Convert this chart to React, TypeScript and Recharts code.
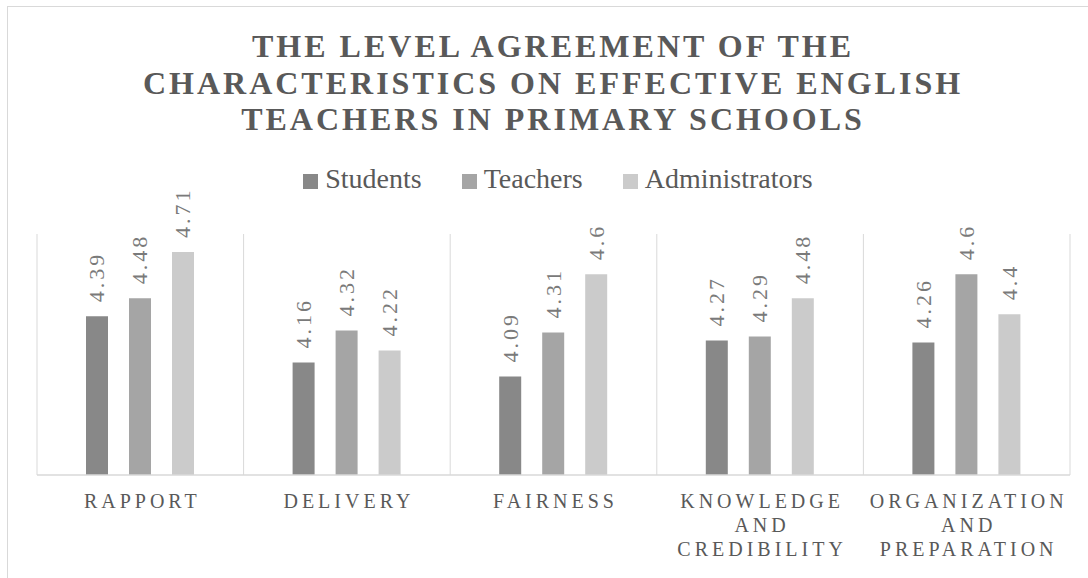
import React from "react";
import {
  BarChart,
  Bar,
  XAxis,
  YAxis,
  CartesianGrid,
  Legend,
  LabelList,
} from "recharts";

const categories = [
  "RAPPORT",
  "DELIVERY",
  "FAIRNESS",
  "KNOWLEDGE AND CREDIBILITY",
  "ORGANIZATION AND PREPARATION",
];
const seriesNames = ["Students", "Teachers", "Administrators"];
const students = [4.39, 4.16, 4.09, 4.27, 4.26];
const teachers = [4.48, 4.32, 4.31, 4.29, 4.6];
const administrators = [4.71, 4.22, 4.6, 4.48, 4.4];
const titleLines = [
  "THE LEVEL AGREEMENT OF THE",
  "CHARACTERISTICS ON EFFECTIVE ENGLISH",
  "TEACHERS IN PRIMARY SCHOOLS",
];

const data = categories.map((category, i) => ({
  category,
  students: students[i],
  teachers: teachers[i],
  administrators: administrators[i],
}));

const FONT = "Liberation Serif, 'DejaVu Serif', serif";

const CategoryTick: React.FC<any> = ({ x, y, payload }) => {
  const lines = String(payload.value).split(" ");
  return (
    <text
      x={x + 2}
      y={y}
      textAnchor="middle"
      fill="#595959"
      fontFamily={FONT}
      fontSize={20}
      letterSpacing={4}
    >
      {lines.map((line, i) => (
        <tspan key={i} x={x + 2} dy={i === 0 ? 33 : 24}>
          {line}
        </tspan>
      ))}
    </text>
  );
};

const ValueLabel: React.FC<any> = ({ x, y, width, value }) => {
  const cx = x + width / 2;
  const cy = y - 14;
  return (
    <text
      x={cx}
      y={cy}
      transform={`rotate(-90, ${cx}, ${cy})`}
      textAnchor="start"
      dominantBaseline="central"
      fill="#7a7a7a"
      fontFamily={FONT}
      fontSize={22}
      letterSpacing={3}
    >
      {value}
    </text>
  );
};

const LegendContent: React.FC<any> = ({ payload }) => {
  const items = [...(payload || [])].sort(
    (a: any, b: any) => seriesNames.indexOf(a.value) - seriesNames.indexOf(b.value)
  );
  return (
    <div
      style={{
        display: "flex",
        justifyContent: "center",
        paddingLeft: 28,
        fontFamily: FONT,
        fontSize: 28,
        lineHeight: "30px",
        color: "#595959",
      }}
    >
      {items.map((entry: any, i: number) => (
        <div
          key={i}
          style={{ display: "flex", alignItems: "flex-start", marginRight: i < 2 ? 40 : 0 }}
        >
          <span
            style={{
              width: 15,
              height: 15,
              marginTop: 10,
              marginRight: 7,
              background: entry.color,
              display: "inline-block",
            }}
          />
          <span>{entry.value}</span>
        </div>
      ))}
    </div>
  );
};

// category boundaries: one line at each band edge
const gridLines = (props: any) => {
  const { offset } = props;
  const step = offset.width / categories.length;
  return [...categories.map((_, i) => offset.left + i * step), offset.left + offset.width];
};

export default function App() {
  return (
    <div
      style={{
        position: "absolute",
        left: 0,
        top: 0,
        width: 1088,
        height: 578,
        background: "#fff",
        overflow: "hidden",
      }}
    >
      <div
        style={{
          position: "absolute",
          left: 7,
          top: 6,
          width: 1200,
          height: 700,
          borderLeft: "1px solid #d9d9d9",
          borderTop: "1px solid #d9d9d9",
        }}
      />
      <svg
        width={1088}
        height={160}
        style={{ position: "absolute", left: 0, top: 0 }}
      >
        {titleLines.map((line, i) => (
          <text
            key={i}
            x={553}
            y={57 + i * 36.5}
            textAnchor="middle"
            fill="#595959"
            fontFamily={FONT}
            fontWeight="bold"
            fontSize={32}
            letterSpacing={3}
          >
            {line}
          </text>
        ))}
      </svg>
      <div style={{ position: "absolute", left: 0, top: 0 }}>
        <BarChart
          width={1088}
          height={578}
          data={data}
          margin={{ top: 234, right: 18, left: 37, bottom: 73 }}
          barSize={22}
          barGap={21}
        >
          <CartesianGrid
            horizontal={false}
            vertical={true}
            stroke="#d9d9d9"
            verticalCoordinatesGenerator={gridLines}
          />
          <XAxis
            dataKey="category"
            height={30}
            interval={0}
            tickLine={false}
            tickSize={0}
            tickMargin={0}
            axisLine={{ stroke: "#d9d9d9", strokeWidth: 1.5 }}
            tick={<CategoryTick />}
          />
          <YAxis hide width={0} domain={[3.6, 4.8]} />
          <Legend
            layout="horizontal"
            verticalAlign="middle"
            align="center"
            wrapperStyle={{ top: 164, left: 0, width: 1088 }}
            content={<LegendContent />}
          />
          <Bar dataKey="students" name="Students" fill="#888888" isAnimationActive={false}>
            <LabelList dataKey="students" content={<ValueLabel />} />
          </Bar>
          <Bar dataKey="teachers" name="Teachers" fill="#a5a5a5" isAnimationActive={false}>
            <LabelList dataKey="teachers" content={<ValueLabel />} />
          </Bar>
          <Bar
            dataKey="administrators"
            name="Administrators"
            fill="#cbcbcb"
            isAnimationActive={false}
          >
            <LabelList dataKey="administrators" content={<ValueLabel />} />
          </Bar>
        </BarChart>
      </div>
    </div>
  );
}
